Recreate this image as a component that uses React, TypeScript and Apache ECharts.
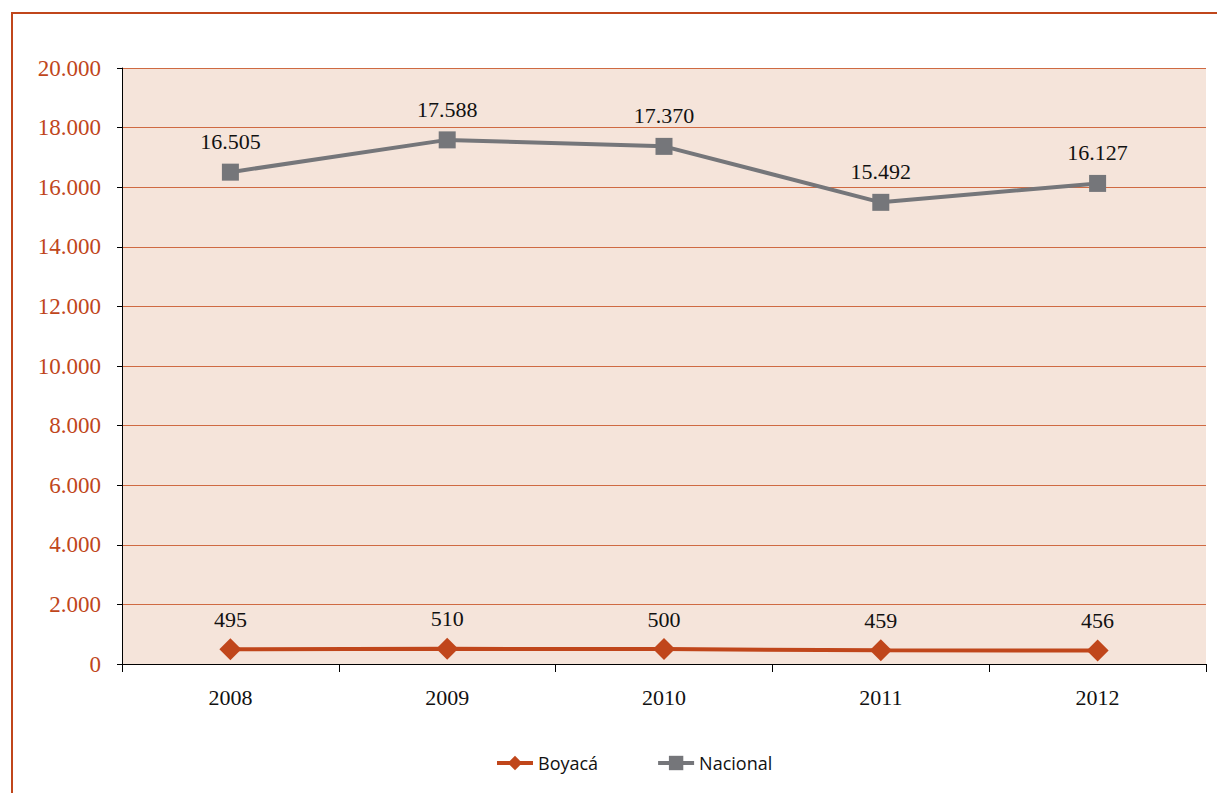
import React, { useEffect, useRef } from "react";
import * as echarts from "echarts";

const years = ["2008", "2009", "2010", "2011", "2012"];
const boyaca = [495, 510, 500, 459, 456];
const nacional = [16505, 17588, 17370, 15492, 16127];
const yTicks = { min: 0, max: 20000, interval: 2000 };

const fmt = (v: number) => {
  const s = String(Math.round(v));
  return s.replace(/\B(?=(\d{3})+(?!\d))/g, ".");
};

export default function App() {
  const ref = useRef<HTMLDivElement>(null);
  useEffect(() => {
    if (!ref.current) return;
    const chart = echarts.init(ref.current, null, { renderer: "svg" });
    const serif = "Liberation Serif";
    chart.setOption({
      animation: false,
      backgroundColor: "#ffffff",
      graphic: [
        { type: "line", shape: { x1: 12, y1: 13, x2: 12, y2: 793 }, style: { stroke: "#C0461B", lineWidth: 2 } },
        { type: "line", shape: { x1: 11, y1: 13, x2: 1217, y2: 13 }, style: { stroke: "#C0461B", lineWidth: 2 } },
      ],
      grid: {
        left: 122,
        right: 11,
        top: 68,
        bottom: 129,
        show: true,
        backgroundColor: "#F5E4DA",
        borderWidth: 0,
      },
      legend: {
        left: 490,
        top: 749,
        itemWidth: 36,
        itemHeight: 18,
        itemGap: 58,
        lineStyle: { width: 4 },
        textStyle: { fontFamily: "Open Sans", fontSize: 18, color: "#111" },
        data: ["Boyacá", "Nacional"],
      },
      xAxis: {
        type: "category",
        data: years,
        boundaryGap: true,
        axisLine: { lineStyle: { color: "#000", width: 1 } },
        axisTick: { show: true, length: 8, lineStyle: { color: "#000" } },
        axisLabel: { fontFamily: serif, fontSize: 22, color: "#111", margin: 22 },
        splitLine: { show: false },
      },
      yAxis: {
        type: "value",
        min: yTicks.min,
        max: yTicks.max,
        interval: yTicks.interval,
        axisLine: { show: true, lineStyle: { color: "#000", width: 1 } },
        axisTick: { show: true, length: 5, lineStyle: { color: "#000" } },
        axisLabel: { fontFamily: serif, fontSize: 23, color: "#C0461B", margin: 21, formatter: fmt },
        splitLine: { show: true, lineStyle: { color: "#CF6A42", width: 1 } },
      },
      series: [
        {
          name: "Boyacá",
          type: "line",
          data: boyaca,
          symbol: "diamond",
          symbolSize: 22,
          itemStyle: { color: "#C0461B" },
          lineStyle: { color: "#C0461B", width: 4 },
          label: {
            show: true,
            position: "top",
            distance: 8,
            fontFamily: serif,
            fontSize: 22,
            color: "#111",
            formatter: (p: any) => fmt(p.value),
          },
          z: 3,
        },
        {
          name: "Nacional",
          type: "line",
          data: nacional,
          symbol: "rect",
          symbolSize: 17,
          itemStyle: { color: "#75767A" },
          lineStyle: { color: "#75767A", width: 4 },
          label: {
            show: true,
            position: "top",
            distance: 11,
            fontFamily: serif,
            fontSize: 22,
            color: "#111",
            formatter: (p: any) => fmt(p.value),
          },
          z: 3,
        },
      ],
    });
    return () => chart.dispose();
  }, []);
  return (
    <div
      ref={ref}
      style={{ position: "absolute", left: 0, top: 0, width: 1217, height: 793 }}
    />
  );
}
